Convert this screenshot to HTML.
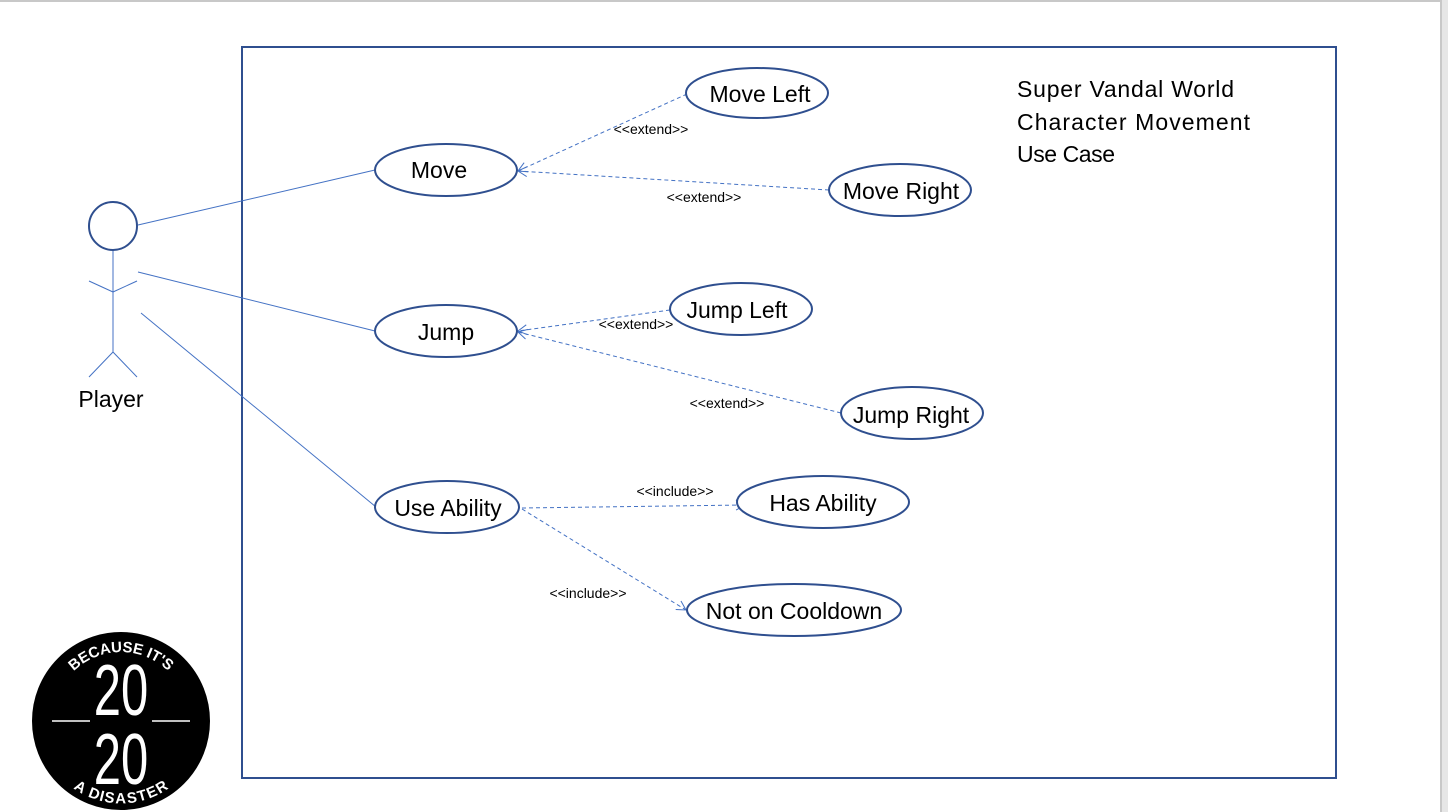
<!DOCTYPE html>
<html><head><meta charset="utf-8"><style>
html,body{margin:0;padding:0;background:#e6e6e6;}
svg{display:block;font-family:"Liberation Sans","DejaVu Sans",sans-serif;}
</style></head><body>
<svg width="1448" height="812" viewBox="0 0 1448 812" xmlns="http://www.w3.org/2000/svg">
<defs>
<marker id="a" markerWidth="12" markerHeight="12" refX="10" refY="6" orient="auto" markerUnits="userSpaceOnUse">
<path d="M1,1 L10,6 L1,11" fill="none" stroke="#4472c4" stroke-width="1"/></marker>
</defs>
<rect x="0" y="0" width="1441" height="812" fill="#fff"/>
<line x1="0" y1="1" x2="1441" y2="1" stroke="#c8c8c8" stroke-width="2"/>
<line x1="1441" y1="0" x2="1441" y2="812" stroke="#c8c8c8" stroke-width="2"/>
<rect x="242" y="47" width="1094" height="731" fill="none" stroke="#2f4f8f" stroke-width="2"/>
<g stroke="#4472c4" stroke-width="1" fill="none">
<line x1="113" y1="250" x2="113" y2="352"/>
<line x1="89" y1="281" x2="113" y2="292"/><line x1="137" y1="281" x2="113" y2="292"/>
<line x1="113" y1="352" x2="89" y2="377"/><line x1="113" y1="352" x2="137" y2="377"/>
<line x1="138" y1="225" x2="375" y2="170"/>
<line x1="138" y1="272" x2="375" y2="331"/>
<line x1="141" y1="313" x2="376" y2="507"/>
<g stroke-dasharray="4,3">
<line x1="687" y1="94" x2="518" y2="171" marker-end="url(#a)"/>
<line x1="829" y1="190" x2="518" y2="171" marker-end="url(#a)"/>
<line x1="670" y1="310" x2="518" y2="331" marker-end="url(#a)"/>
<line x1="841" y1="413" x2="518" y2="332" marker-end="url(#a)"/>
<line x1="522" y1="508" x2="745" y2="505" marker-end="url(#a)"/>
<line x1="522" y1="509" x2="686" y2="610" marker-end="url(#a)"/>
</g>
</g>
<circle cx="113" cy="226" r="24" fill="#fff" stroke="#2f4f8f" stroke-width="2"/>
<g fill="#fff" stroke="#2f4f8f" stroke-width="2">
<ellipse cx="446" cy="170" rx="71" ry="26"/>
<ellipse cx="757" cy="93" rx="71" ry="25"/>
<ellipse cx="900" cy="190" rx="71" ry="26"/>
<ellipse cx="446" cy="331" rx="71" ry="26"/>
<ellipse cx="741" cy="309" rx="71" ry="26"/>
<ellipse cx="912" cy="413" rx="71" ry="26"/>
<ellipse cx="447" cy="507" rx="72" ry="26"/>
<ellipse cx="823" cy="502" rx="86" ry="26"/>
<ellipse cx="794" cy="610" rx="107" ry="26"/>
</g>
<g font-size="23" fill="#000" text-anchor="middle" textLength="0">
<text x="439" y="178">Move</text>
<text x="760" y="102">Move Left</text>
<text x="901" y="199">Move Right</text>
<text x="446" y="340">Jump</text>
<text x="737" y="318">Jump Left</text>
<text x="911" y="423">Jump Right</text>
<text x="448" y="516">Use Ability</text>
<text x="823" y="511">Has Ability</text>
<text x="794" y="619">Not on Cooldown</text>
<text x="111" y="407">Player</text>
</g>
<g font-size="23" fill="#000">
<text x="1017" y="97" textLength="217">Super Vandal World</text>
<text x="1017" y="130" textLength="233">Character Movement</text>
<text x="1017" y="162" textLength="98">Use Case</text>
</g>
<g font-size="14" fill="#000" text-anchor="middle">
<text x="651" y="134">&lt;&lt;extend&gt;&gt;</text>
<text x="704" y="202">&lt;&lt;extend&gt;&gt;</text>
<text x="636" y="329">&lt;&lt;extend&gt;&gt;</text>
<text x="727" y="408">&lt;&lt;extend&gt;&gt;</text>
<text x="675" y="496">&lt;&lt;include&gt;&gt;</text>
<text x="588" y="598">&lt;&lt;include&gt;&gt;</text>
</g>
<g>
<circle cx="121" cy="721" r="88" fill="#000"/>
<circle cx="121" cy="721" r="78" fill="none" stroke="#fff" stroke-width="1"/>
<circle cx="121" cy="721" r="78" fill="none" stroke="#000" stroke-width="22"/>
<line x1="52" y1="721" x2="90" y2="721" stroke="#fff" stroke-width="1.5"/>
<line x1="152" y1="721" x2="190" y2="721" stroke="#fff" stroke-width="1.5"/>
<text x="121" y="715" text-anchor="middle" font-size="72" fill="#fff" transform="translate(121 0) scale(0.68 1) translate(-121 0)">20</text>
<text x="121" y="784" text-anchor="middle" font-size="72" fill="#fff" transform="translate(121 0) scale(0.68 1) translate(-121 0)">20</text>
<path id="tp" d="M60,690 A68,68 0 0 1 182,690" fill="none"/>
<text font-size="15" font-weight="bold" fill="#fff"><textPath href="#tp" startOffset="50%" text-anchor="middle">BECAUSE IT'S</textPath></text>
<path id="bp" d="M56,752 A72,72 0 0 0 186,752" fill="none"/>
<text font-size="15" font-weight="bold" fill="#fff"><textPath href="#bp" startOffset="50%" text-anchor="middle" dominant-baseline="hanging">A DISASTER</textPath></text>
</g>
</svg>
</body></html>
